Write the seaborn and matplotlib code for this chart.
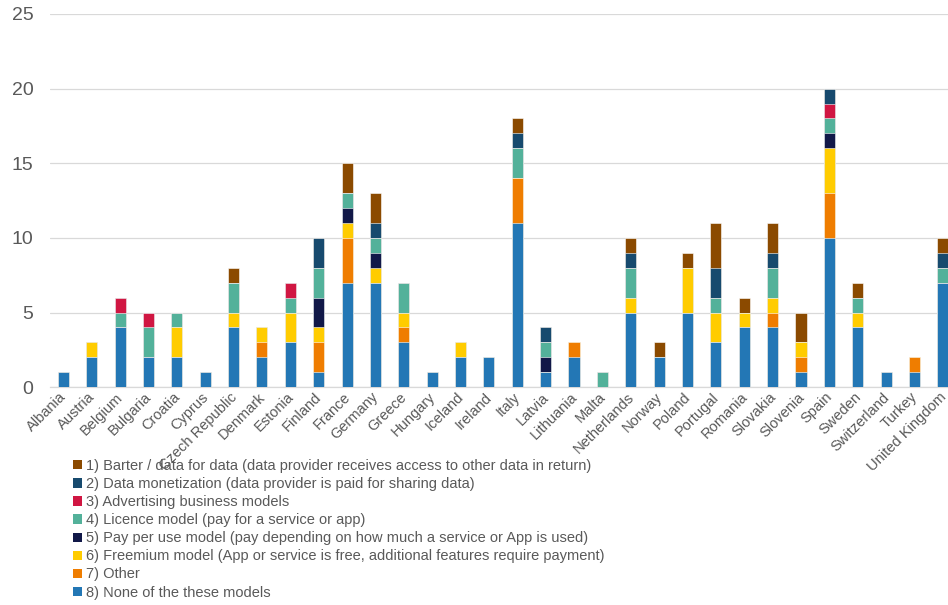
import matplotlib
matplotlib.use("Agg")
import numpy as np
import seaborn as sns
import matplotlib.pyplot as plt
import matplotlib.transforms as mtransforms
from matplotlib.patches import Patch

countries = ["Albania", "Austria", "Belgium", "Bulgaria", "Croatia", "Cyprus",
             "Czech Republic", "Denmark", "Estonia", "Finland", "France", "Germany",
             "Greece", "Hungary", "Iceland", "Ireland", "Italy", "Latvia",
             "Lithuania", "Malta", "Netherlands", "Norway", "Poland", "Portugal",
             "Romania", "Slovakia", "Slovenia", "Spain", "Sweden", "Switzerland",
             "Turkey", "United Kingdom"]

# one list per business model, same order as countries
none_model = [1, 2, 4, 2, 2, 1, 4, 2, 3, 1, 7, 7, 3, 1, 2, 2, 11, 1, 2, 0, 5, 2, 5, 3, 4, 4, 1, 10, 4, 1, 1, 7]
other = [0, 0, 0, 0, 0, 0, 0, 1, 0, 2, 3, 0, 1, 0, 0, 0, 3, 0, 1, 0, 0, 0, 0, 0, 0, 1, 1, 3, 0, 0, 1, 0]
freemium = [0, 1, 0, 0, 2, 0, 1, 1, 2, 1, 1, 1, 1, 0, 1, 0, 0, 0, 0, 0, 1, 0, 3, 2, 1, 1, 1, 3, 1, 0, 0, 0]
pay_per_use = [0, 0, 0, 0, 0, 0, 0, 0, 0, 2, 1, 1, 0, 0, 0, 0, 0, 1, 0, 0, 0, 0, 0, 0, 0, 0, 0, 1, 0, 0, 0, 0]
licence = [0, 0, 1, 2, 1, 0, 2, 0, 1, 2, 1, 1, 2, 0, 0, 0, 2, 1, 0, 1, 2, 0, 0, 1, 0, 2, 0, 1, 1, 0, 0, 1]
advertising = [0, 0, 1, 1, 0, 0, 0, 0, 1, 0, 0, 0, 0, 0, 0, 0, 0, 0, 0, 0, 0, 0, 0, 0, 0, 0, 0, 1, 0, 0, 0, 0]
monetization = [0, 0, 0, 0, 0, 0, 0, 0, 0, 2, 0, 1, 0, 0, 0, 0, 1, 1, 0, 0, 1, 0, 0, 2, 0, 1, 0, 1, 0, 0, 0, 1]
barter = [0, 0, 0, 0, 0, 0, 1, 0, 0, 0, 2, 2, 0, 0, 0, 0, 1, 0, 0, 0, 1, 1, 1, 3, 1, 2, 2, 0, 1, 0, 0, 1]

labels = ["1) Barter / data for data (data provider receives access to other data in return)",
          "2) Data monetization (data provider is paid for sharing data)",
          "3) Advertising business models",
          "4) Licence model (pay for a service or app)",
          "5) Pay per use model (pay depending on how much a service or App is used)",
          "6) Freemium model (App or service is free, additional features require payment)",
          "7) Other",
          "8) None of the these models"]
colors = ["#8b4a00", "#174a6e", "#d01642", "#53b19a", "#111848", "#ffcc00", "#ef7d00", "#2377b5"]

sns.set_style("white")
plt.rcParams["font.family"] = ["Liberation Sans", "DejaVu Sans"]

fig = plt.figure(figsize=(9.48, 6.05), dpi=100)
ax = fig.add_axes([0.053, 0.360, 0.947, 0.617])

# bottom-up layers, drawn as cumulative totals from the top layer down
layers = [none_model, other, freemium, pay_per_use, licence, advertising, monetization, barter]
layer_colors = colors[::-1]
cum = np.cumsum(np.array(layers), axis=0)
for k in range(len(layers) - 1, -1, -1):
    sns.barplot(x=countries, y=cum[k], color=layer_colors[k], saturation=1,
                width=0.39, edgecolor="white", linewidth=0.4, ax=ax, zorder=3)

ax.set_ylim(0, 25)
ax.set_xlim(-0.46, 31.18)
ax.set_yticks(range(0, 26, 5))
ax.yaxis.grid(True, color="#d9d9d9", linewidth=0.9, zorder=0)
ax.set_axisbelow(True)
for s in ["left", "right", "top"]:
    ax.spines[s].set_visible(False)
ax.spines["bottom"].set_color("#d9d9d9")
ax.spines["bottom"].set_linewidth(0.9)
ax.tick_params(axis="y", labelsize=14, colors="#595959", length=0, pad=12)
ax.tick_params(axis="x", labelsize=10.5, colors="#595959", length=0, pad=2)
shift = mtransforms.ScaledTranslation(-4 / 100, 0, fig.dpi_scale_trans)
for lab in ax.get_xticklabels():
    lab.set_rotation(45)
    lab.set_ha("right")
    lab.set_rotation_mode("anchor")
    lab.set_transform(lab.get_transform() + shift)
ax.set_xlabel("")
ax.set_ylabel("")

handles = [Patch(facecolor=c, edgecolor="none") for c in colors]
fig.legend(handles, labels, loc="upper left", bbox_to_anchor=(0.071, 0.251),
           frameon=False, fontsize=10.5, labelcolor="#595959",
           handlelength=0.6, handleheight=0.6, handletextpad=0.3,
           labelspacing=0.28, borderaxespad=0)

fig.savefig("out.png", dpi=100)
